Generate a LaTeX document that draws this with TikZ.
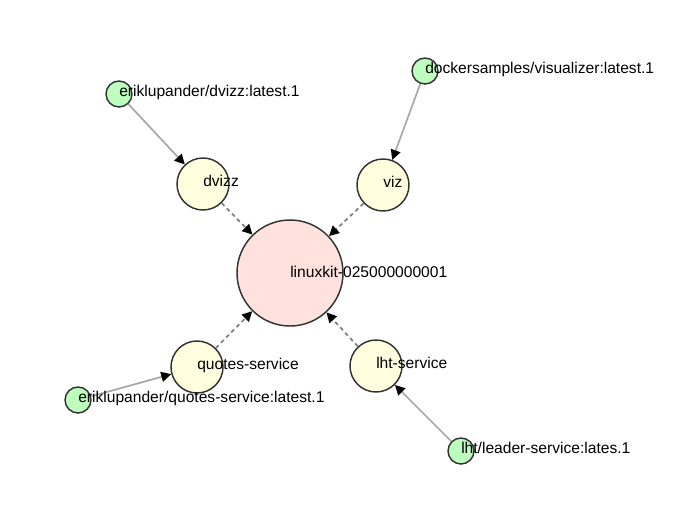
\documentclass[tikz,border=0pt]{standalone}
\usepackage{fontspec}
\setmainfont{Liberation Sans}
\usetikzlibrary{arrows.meta}
\definecolor{hostfill}{HTML}{FFE2DE}
\definecolor{svcfill}{HTML}{FFFFDF}
\definecolor{taskfill}{HTML}{BDFDBD}
\definecolor{ringcol}{HTML}{333333}
\definecolor{linkcol}{HTML}{A8A8A8}
\definecolor{dashcol}{HTML}{808080}
\begin{document}
\begin{tikzpicture}[x=0.75pt,y=-0.75pt,
  base/.style={circle,draw=ringcol,line width=1.1pt,inner sep=0pt},
  host/.style={base,fill=hostfill,minimum size=79.5pt},
  svc/.style={base,fill=svcfill,minimum size=39pt},
  task/.style={base,fill=taskfill,minimum size=19.5pt},
  lbl/.style={anchor=base west,inner sep=0pt,font=\fontsize{11.7pt}{13pt}\selectfont},
  tip/.style={-{Triangle[length=7.5pt,width=7.5pt,color=black,fill=black]}},
  solidlink/.style={tip,draw=linkcol,line width=1.3pt},
  dashlink/.style={tip,draw=dashcol,line width=1.3pt,dash pattern=on 3pt off 2.5pt}]
\useasboundingbox (0,0) rectangle (682,504);
% nodes
\node[host] (h) at (290,273) {};
\node[svc] (dv) at (203,184) {};
\node[svc] (vz) at (383,185) {};
\node[svc] (qs) at (197,367) {};
\node[svc] (lh) at (376,366) {};
\node[task] (t1) at (119,94) {};
\node[task] (t2) at (425,71) {};
\node[task] (t3) at (78,400) {};
\node[task] (t4) at (461,451) {};
% links
\draw[solidlink] (t1) -- (dv);
\draw[solidlink] (t2) -- (vz);
\draw[solidlink] (t3) -- (qs);
\draw[solidlink] (t4) -- (lh);
\draw[dashlink] (dv) -- (h);
\draw[dashlink] (vz) -- (h);
\draw[dashlink] (qs) -- (h);
\draw[dashlink] (lh) -- (h);
% labels
\node[lbl] (lh0) at ([yshift=-3.5pt]h.center) {linuxkit-025000000001};
\node[lbl] (ldv) at ([yshift=-1.5pt]dv.center) {dvizz};
\node[lbl] (lvz) at ([yshift=-1.5pt]vz.center) {viz};
\node[lbl] (lqs) at ([yshift=-1.5pt]qs.center) {quotes-service};
\node[lbl] (llh) at ([yshift=-1.5pt]lh.center) {lht-service};
\node[lbl] (lt1) at ([yshift=-1.5pt]t1.center) {eriklupander/dvizz:latest.1};
\node[lbl] (lt2) at ([yshift=-1.5pt]t2.center) {dockersamples/visualizer:latest.1};
\node[lbl] (lt3) at ([yshift=-1.5pt]t3.center) {eriklupander/quotes-service:latest.1};
\node[lbl] (lt4) at ([yshift=-1.5pt]t4.center) {lht/leader-service:lates.1};
\end{tikzpicture}
\end{document}
